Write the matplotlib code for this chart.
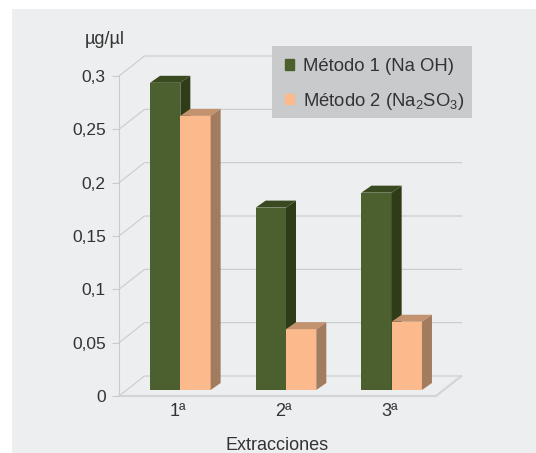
import matplotlib
matplotlib.use('Agg')
import matplotlib.pyplot as plt
from matplotlib.patches import Patch, Rectangle
from matplotlib.transforms import ScaledTranslation

plt.rcParams['font.family'] = ['Liberation Sans', 'DejaVu Sans']
plt.rcParams['mathtext.default'] = 'regular'

extracciones = ['1ª', '2ª', '3ª']
metodo1 = [0.288, 0.171, 0.185]
metodo2 = [0.257, 0.057, 0.064]
y_ticks = [0, 0.05, 0.1, 0.15, 0.2, 0.25, 0.3]
y_labels = ['0', '0,05', '0,1', '0,15', '0,2', '0,25', '0,3']

W, H = 536, 453
BG = '#eceeef'
GRID = '#c9cbcd'
TEXT = '#333333'

fig = plt.figure(figsize=(W / 100, H / 100), dpi=100, facecolor='white')
fig.patches.append(Rectangle((12 / W, 0), 1, 1 - 9 / H, transform=fig.transFigure,
                             facecolor=BG, edgecolor='none', zorder=-5))

# front plane of the fake 3d box
ax = fig.add_axes([119 / W, (H - 396) / H, (436 - 119) / W, (396 - 76) / H])
ax.patch.set_visible(False)
ax.set_xlim(-0.5, 2.5)
ax.set_ylim(0, 0.3)
for s in ax.spines.values():
    s.set_visible(False)

px_x = 3 / (436 - 119)
px_y = 0.3 / (396 - 76)
wall_dx, wall_dy = 25.5 * px_x, 20 * px_y
bar_dx, bar_dy = 10 * px_x, 7 * px_y
shift_x, shift_y = 8.5 * px_x, 6 * px_y
bar_w = 30.3 * px_x

# walls and floor
for t in y_ticks:
    ax.plot([-0.5, -0.5 + wall_dx, 2.5 + wall_dx],
            [t, t + wall_dy, t + wall_dy], color=GRID, lw=0.8, clip_on=False, zorder=1)
ax.plot([-0.5, -0.5], [0, 0.3], color=GRID, lw=0.8, clip_on=False, zorder=1)
ax.plot([-0.5, 2.5, 2.5 + wall_dx], [0, 0, wall_dy], color='#d2d4d6', lw=1.5, clip_on=False, zorder=1)


def draw_bar(x, v, front, top, side):
    x0 = x + shift_x
    x1 = x0 + bar_w
    y0 = shift_y
    y1 = shift_y + v
    ax.bar(x0, v, bar_w, bottom=y0, align='edge', color=front, clip_on=False, zorder=3)
    ax.fill([x0, x1, x1 + bar_dx, x0 + bar_dx], [y1, y1, y1 + bar_dy, y1 + bar_dy],
            color=top, lw=0, clip_on=False, zorder=3)
    ax.fill([x1, x1 + bar_dx, x1 + bar_dx, x1], [y0, y0 + bar_dy, y1 + bar_dy, y1],
            color=side, lw=0, clip_on=False, zorder=3)


for i in range(3):
    draw_bar(i - bar_w, metodo1[i], '#4c5f2e', '#3a4a20', '#2f3c17')
    draw_bar(i, metodo2[i], '#fbb98c', '#c3926f', '#a37c5f')

ax.set_yticks(y_ticks, y_labels)
ax.set_xticks(range(3), extracciones)
ax.tick_params(axis='y', length=5, width=0.8, color=GRID, labelsize=12.5, labelcolor=TEXT, pad=4.5)
ax.tick_params(axis='x', length=0, labelsize=13, labelcolor=TEXT, pad=5)
for lab in ax.get_xticklabels():
    lab.set_transform(lab.get_transform() + ScaledTranslation(6 / 100, 0, fig.dpi_scale_trans))

ax.set_xlabel('Extracciones', fontsize=13, color=TEXT, labelpad=12)
ax.text(104.5 / W, (H - 40) / H, 'µg/µl', transform=fig.transFigure, fontsize=13,
        color=TEXT, ha='center', va='center')

# legend box drawn apart so the rows can sit where they do in the original
ax.add_patch(Rectangle((272 / W, (H - 118) / H), 200 / W, 72 / H, transform=fig.transFigure,
                       facecolor='#c9cacc', edgecolor='none', clip_on=False, zorder=4))
handles = [Patch(color='#4c5f2e'), Patch(color='#fbb98c')]
leg = ax.legend(handles, ['Método 1 (Na OH)', 'Método 2 (Na$_2$SO$_3$)'],
                loc='upper left', bbox_to_anchor=(285 / W, (H - 58) / H),
                bbox_transform=fig.transFigure, fontsize=13.3, labelcolor=TEXT,
                frameon=False, handlelength=0.5, handleheight=0.5, handletextpad=0.45,
                labelspacing=0.85, borderpad=0, borderaxespad=0)
leg.set_zorder(5)

fig.savefig('out.png', dpi=100)
